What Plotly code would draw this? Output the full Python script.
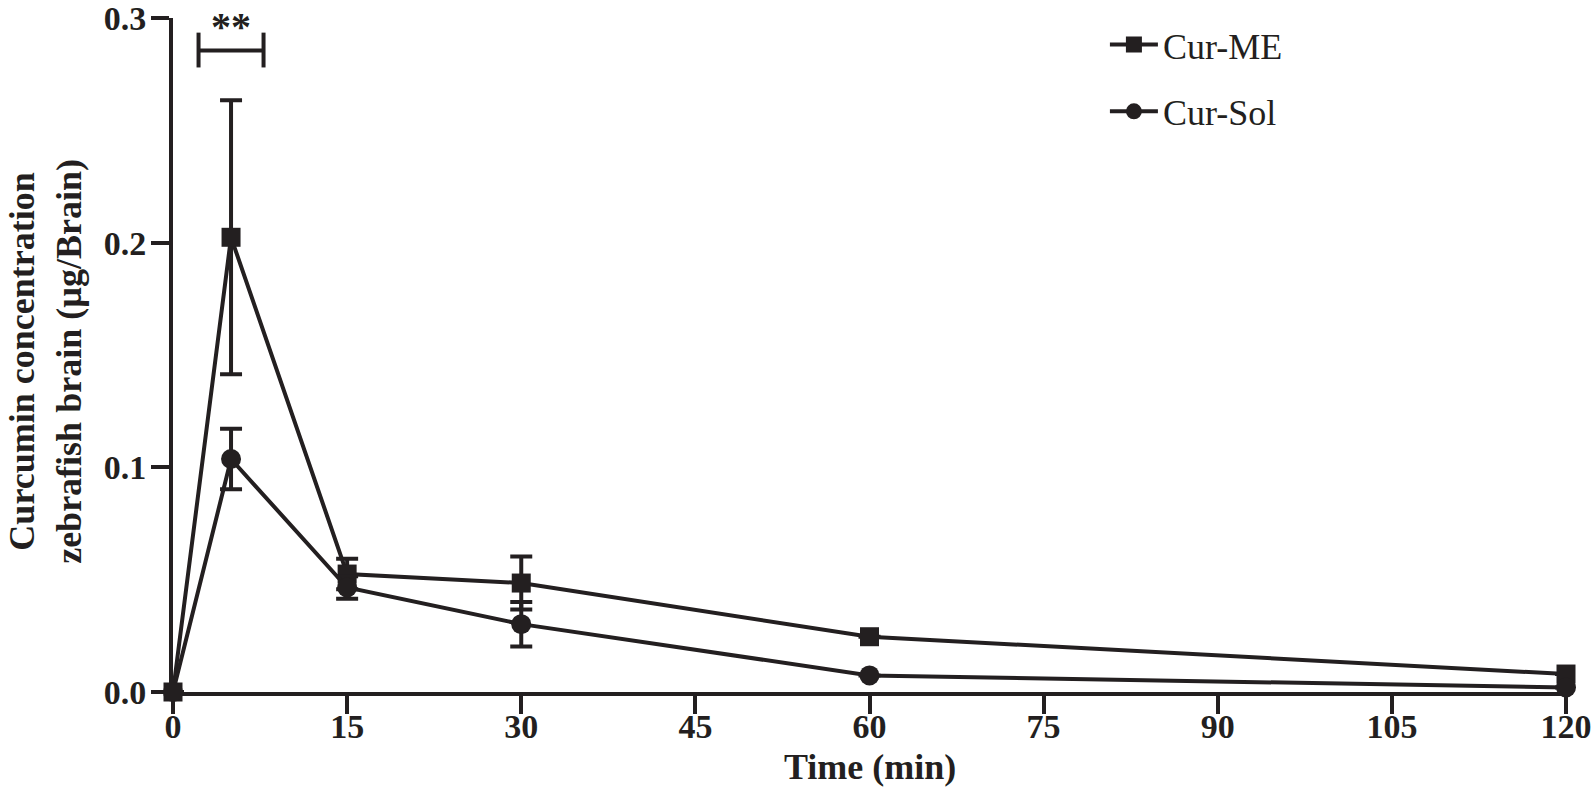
import plotly.graph_objects as go

# ---- data ----
time_min = [0, 5, 15, 30, 60, 120]
cur_me = [0.0, 0.2024, 0.0525, 0.0485, 0.0246, 0.008]
cur_me_sd = [0.0, 0.061, 0.0068, 0.0118, 0.0, 0.0]
cur_sol = [0.0, 0.1037, 0.0465, 0.0302, 0.0074, 0.002]
cur_sol_sd = [0.0, 0.0135, 0.005, 0.0099, 0.0, 0.0]
x_ticks = [0, 15, 30, 45, 60, 75, 90, 105, 120]
y_ticks = [0.0, 0.1, 0.2, 0.3]

# significance bracket between groups at 5 min
sig_x0, sig_x1 = 2.2, 7.8
sig_y, sig_y_lo, sig_y_hi = 0.2855, 0.278, 0.2935
sig_label = "**"

x_title = "Time (min)"
y_title = "Curcumin concentration<br>zebrafish brain (µg/Brain)"

FONT = "Liberation Serif"
BLACK = "#231f20"

fig = go.Figure()
fig.add_trace(go.Scatter(
    x=time_min, y=cur_me, name="Cur-ME", mode="lines+markers",
    legendgroup="me",
    line=dict(color=BLACK, width=4),
    marker=dict(symbol="square", size=19, color=BLACK),
    error_y=dict(type="data", array=cur_me_sd, visible=True, color=BLACK,
                 thickness=4, width=11),
    cliponaxis=False,
))
fig.add_trace(go.Scatter(
    x=time_min, y=cur_sol, name="Cur-Sol", mode="lines+markers",
    legendgroup="sol",
    line=dict(color=BLACK, width=4),
    marker=dict(symbol="circle", size=20, color=BLACK),
    error_y=dict(type="data", array=cur_sol_sd, visible=True, color=BLACK,
                 thickness=4, width=11),
    cliponaxis=False,
))

# significance bracket
for shp in [
    dict(x0=sig_x0, x1=sig_x1, y0=sig_y, y1=sig_y),
    dict(x0=sig_x0, x1=sig_x0, y0=sig_y_lo, y1=sig_y_hi),
    dict(x0=sig_x1, x1=sig_x1, y0=sig_y_lo, y1=sig_y_hi),
]:
    fig.add_shape(type="line", xref="x", yref="y", line=dict(color=BLACK, width=4), **shp)

fig.add_annotation(x=(sig_x0 + sig_x1) / 2, y=0.2975, xref="x", yref="y",
                   text=sig_label, showarrow=False,
                   yanchor="middle", yshift=-3,
                   font=dict(family=FONT, size=40, color=BLACK, weight="bold"))

# axis titles
fig.add_annotation(x=0.5, y=-0.111, xref="paper", yref="paper",
                   text=x_title, showarrow=False, xanchor="center", yanchor="middle",
                   font=dict(family=FONT, size=36, color=BLACK, weight="bold"))
fig.add_annotation(x=-0.0911, y=0.49, xref="paper", yref="paper",
                   text=y_title, showarrow=False, textangle=-90,
                   xanchor="center", yanchor="middle",
                   font=dict(family=FONT, size=36, color=BLACK, weight="bold"))

fig.update_layout(
    width=1594, height=804,
    margin=dict(l=173, r=28, t=18, b=112, autoexpand=False),
    paper_bgcolor="white", plot_bgcolor="white",
    font=dict(family=FONT, color=BLACK),
    showlegend=True,
    legend=dict(x=0.669, y=1.005, xanchor="left", yanchor="top",
                font=dict(family=FONT, size=36, color=BLACK),
                bgcolor="rgba(0,0,0,0)", itemwidth=48,
                tracegroupgap=17, traceorder="grouped"),
)
fig.update_xaxes(
    range=[0, 120], tickmode="array", tickvals=x_ticks,
    ticktext=[str(v) for v in x_ticks],
    showline=True, linecolor=BLACK, linewidth=4,
    ticks="outside", ticklen=18, tickwidth=4, tickcolor=BLACK,
    tickfont=dict(family=FONT, size=34, color=BLACK, weight="bold"),
    ticklabelstandoff=-17, ticklabeloverflow="allow", automargin=False,
    showgrid=False, zeroline=False,
)
fig.update_yaxes(
    range=[0, 0.30001], tickmode="array", tickvals=y_ticks,
    ticktext=[f"{v:.1f}" for v in y_ticks],
    showline=True, linecolor=BLACK, linewidth=4,
    ticks="outside", ticklen=18, tickwidth=4, tickcolor=BLACK,
    tickfont=dict(family=FONT, size=34, color=BLACK, weight="bold"),
    ticklabelstandoff=-2, ticklabeloverflow="allow", automargin=False,
    showgrid=False, zeroline=False,
)

fig.write_html("out.html", config={"displayModeBar": False},
               post_script="document.body.style.margin='0';document.body.style.overflow='hidden';")
